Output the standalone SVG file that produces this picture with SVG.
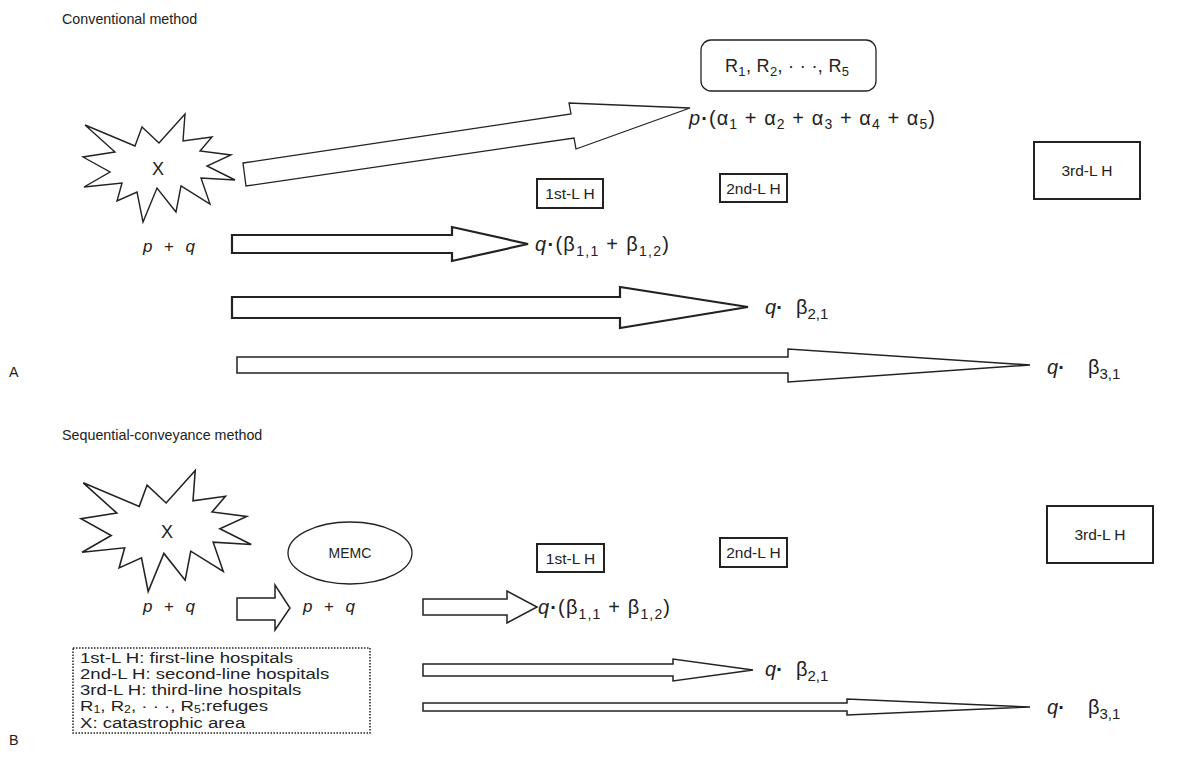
<svg xmlns="http://www.w3.org/2000/svg" width="1183" height="759" viewBox="0 0 1183 759">
<style>
text{font-family:"Liberation Sans",Arial,sans-serif;fill:#222}
.t14{font-size:14.3px}
.lbl{font-size:15.5px}
.leg{font-size:15px}
.pq{font-size:17px;font-style:italic}
.f{font-size:20px}
.i{font-style:italic}
.d{font-weight:bold;font-style:normal}
.box{fill:#fff;stroke:#222;stroke-width:2}
.thin{fill:#fff;stroke:#222;stroke-width:1.3}
.arr{fill:#fff;stroke:#222;stroke-width:2.2;stroke-linejoin:miter}
.arr2{fill:#fff;stroke:#222;stroke-width:1.5;stroke-linejoin:miter}
.star{fill:#fff;stroke:#222;stroke-width:1.4;stroke-linejoin:miter}
</style>
<defs>
<polygon id="starShape" points="85,125 135,146 142,127 159,143 185,114 183,141 212,137 200,151 231,155 207,166 235,180 201,178 210,204 181,186 176,212 157,188 143,222 137,192 117,201 122,183 84,187 110,172 83,157 115,152"/>
</defs>

<text class="t14" x="62" y="24">Conventional method</text>
<text class="t14" x="9" y="377">A</text>
<text class="t14" x="62" y="440">Sequential-conveyance method</text>
<text class="t14" x="9" y="745">B</text>

<!-- Panel A nodes -->
<g id="starA">
<use href="#starShape" class="star"/>
<text font-size="18" x="158" y="175" text-anchor="middle">X</text>
<text class="pq" x="143" y="252" textLength="52">p<tspan font-style="normal"> + </tspan> q</text>
</g>
<g id="refugesA">
<rect x="701" y="40" width="175" height="51" rx="10" class="thin"/>
<text font-size="18" x="725" y="72" textLength="124">R<tspan dy="4" font-size="13">1</tspan><tspan dy="-4">, R</tspan><tspan dy="4" font-size="13">2</tspan><tspan dy="-4">, · · ·, R</tspan><tspan dy="4" font-size="13">5</tspan></text>
</g>
<g id="alphaA">
<text class="f" x="689" y="125" textLength="246"><tspan class="i">p</tspan><tspan class="d">·</tspan>(α<tspan dy="4" font-size="14">1</tspan><tspan dy="-4">  + α</tspan><tspan dy="4" font-size="14">2</tspan><tspan dy="-4"> + α</tspan><tspan dy="4" font-size="14">3</tspan><tspan dy="-4"> + α</tspan><tspan dy="4" font-size="14">4</tspan><tspan dy="-4"> + α</tspan><tspan dy="4" font-size="14">5</tspan><tspan dy="-4">)</tspan></text>
</g>
<g id="h1A">
<rect x="537" y="179" width="66" height="29" class="box"/>
<text class="lbl" x="570" y="199" text-anchor="middle">1st-L H</text>
</g>
<g id="h2A">
<rect x="720" y="174" width="67" height="28" class="box"/>
<text class="lbl" x="753.5" y="194" text-anchor="middle">2nd-L H</text>
</g>
<g id="h3A">
<rect x="1034" y="142" width="106" height="57" class="box"/>
<text class="lbl" x="1087" y="176" text-anchor="middle">3rd-L H</text>
</g>
<g id="q1A">
<text class="f" x="535" y="251" textLength="134"><tspan class="i">q</tspan><tspan class="d">·</tspan>(β<tspan dy="5" font-size="14">1,1</tspan><tspan dy="-5"> + β</tspan><tspan dy="5" font-size="14">1,2</tspan><tspan dy="-5">)</tspan></text>
</g>
<g id="q2A">
<text class="f i" x="765" y="314">q<tspan class="d">·</tspan></text>
<text class="f" x="796" y="314">β<tspan dy="5" font-size="15">2,1</tspan></text>
</g>
<g id="q3A">
<text class="f i" x="1047" y="374">q<tspan class="d">·</tspan></text>
<text class="f" x="1088" y="374">β<tspan dy="5" font-size="15">3,1</tspan></text>
</g>

<!-- Panel B nodes -->
<g id="starB">
<use href="#starShape" class="star" transform="translate(165,531) scale(1.12) translate(-158,-168)" style="vector-effect:non-scaling-stroke"/>
<text font-size="18" x="167" y="538" text-anchor="middle">X</text>
<text class="pq" x="143" y="612" textLength="52">p<tspan font-style="normal"> + </tspan> q</text>
</g>
<g id="memc">
<ellipse cx="350" cy="553" rx="62" ry="31" class="thin"/>
<text font-size="14" x="350" y="558" text-anchor="middle">MEMC</text>
<text class="pq" x="303" y="612" textLength="52">p<tspan font-style="normal"> + </tspan> q</text>
</g>
<g id="h1B">
<rect x="537" y="544" width="67" height="28" class="box"/>
<text class="lbl" x="570.5" y="564" text-anchor="middle">1st-L H</text>
</g>
<g id="h2B">
<rect x="720" y="538" width="67" height="29" class="box"/>
<text class="lbl" x="753.5" y="558" text-anchor="middle">2nd-L H</text>
</g>
<g id="h3B">
<rect x="1047" y="506" width="106" height="57" class="box"/>
<text class="lbl" x="1100" y="540" text-anchor="middle">3rd-L H</text>
</g>
<g id="q1B">
<text class="f" x="538" y="614" textLength="132"><tspan class="i">q</tspan><tspan class="d">·</tspan>(β<tspan dy="5" font-size="14">1,1</tspan><tspan dy="-5"> + β</tspan><tspan dy="5" font-size="14">1,2</tspan><tspan dy="-5">)</tspan></text>
</g>
<g id="q2B">
<text class="f i" x="765" y="676">q<tspan class="d">·</tspan></text>
<text class="f" x="796" y="676">β<tspan dy="5" font-size="15">2,1</tspan></text>
</g>
<g id="q3B">
<text class="f i" x="1047" y="714">q<tspan class="d">·</tspan></text>
<text class="f" x="1088" y="714">β<tspan dy="5" font-size="15">3,1</tspan></text>
</g>
<g id="legend">
<rect x="73" y="648" width="297" height="85" fill="#fff" stroke="#222" stroke-width="1.5" stroke-dasharray="1.5 1.5"/>
<g transform="translate(80,0) scale(1.24,1) translate(-80,0)">
<text class="leg" x="80" y="663">1st-L H: first-line hospitals</text>
<text class="leg" x="80" y="679">2nd-L H: second-line hospitals</text>
<text class="leg" x="80" y="695">3rd-L H: third-line hospitals</text>
<text class="leg" x="80" y="711">R<tspan dy="2" font-size="10">1</tspan><tspan dy="-2">, R</tspan><tspan dy="2" font-size="10">2</tspan><tspan dy="-2">, · · ·, R</tspan><tspan dy="2" font-size="10">5</tspan><tspan dy="-2">:refuges</tspan></text>
<text class="leg" x="80" y="728">X: catastrophic area</text>
</g>
</g>

<!-- connectors -->
<g id="connectors">
<polygon class="thin" points="243,163 571,114 569,103 690,108 576,149 574,138 246,186"/>
<polygon class="arr" points="232,235 452,235 452,227 528,244 452,261 452,253 232,253"/>
<polygon class="arr" points="232,297 620,297 620,287 748,307 620,328 620,318 232,318"/>
<polygon class="arr2" points="237,357 788,357 788,349 1030,365 788,382 788,373 237,373"/>
<polygon class="arr2" points="237,598 275,598 275,585 290,608 275,630 275,620 237,620"/>
<polygon class="arr2" points="423,599 507,599 507,591 537,607 507,623 507,615 423,615"/>
<polygon class="arr2" points="423,664 673,664 673,659 753,670 673,681 673,676 423,676"/>
<polygon class="arr2" points="423,703 847,703 847,699 1030,707 847,715 847,711 423,711"/>
</g>
</svg>
